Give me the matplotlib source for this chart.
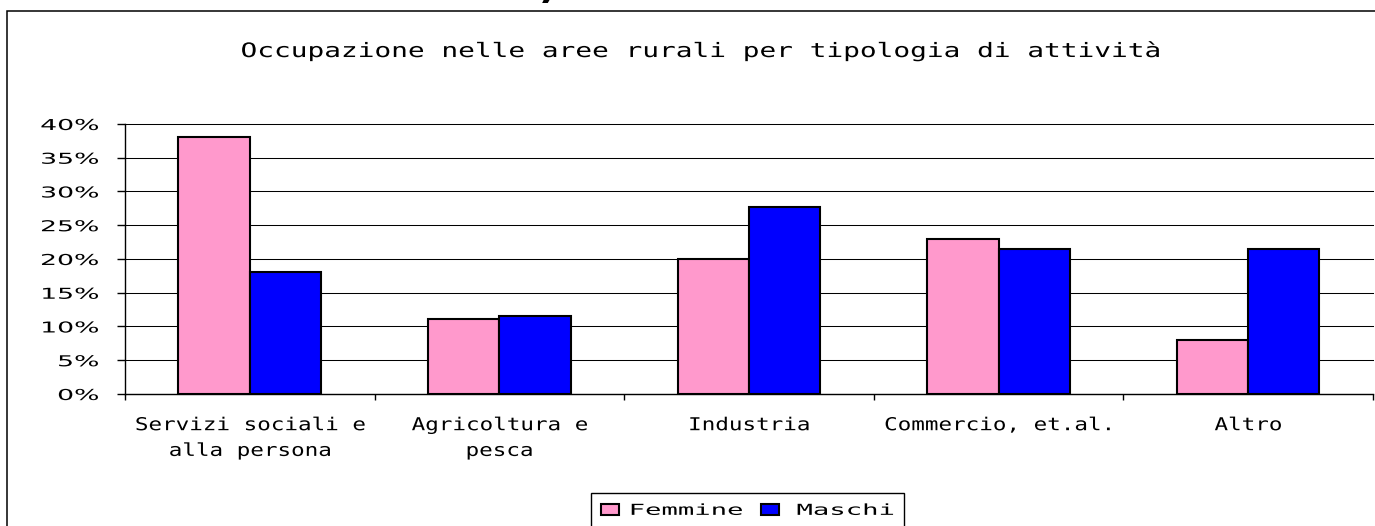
import matplotlib
matplotlib.use('Agg')
import matplotlib.pyplot as plt
import matplotlib.patheffects as pe
import matplotlib.ticker as mtick
from matplotlib.transforms import Affine2D
from matplotlib.patches import Rectangle
import numpy as np

# Dati (percentuali)
categorie = ["Servizi sociali e\nalla persona", "Agricoltura e\npesca", "Industria",
             "Commercio, et.al.", "Altro"]
femmine = [38, 11.1, 20, 22.9, 8]
maschi = [18, 11.5, 27.7, 21.5, 21.5]
serie = ["Femmine", "Maschi"]
titolo = "Occupazione nelle aree rurali per tipologia di attività"


# il testo originale e' molto "largo": lo allargo in orizzontale
class Allarga(pe.AbstractPathEffect):
    def __init__(self, sx, anchor='center'):
        super().__init__()
        self.sx = sx
        self.anchor = anchor

    def draw_path(self, renderer, gc, tpath, affine, rgbFace=None):
        ext = tpath.get_extents()
        cx = {'left': ext.x0, 'center': (ext.x0 + ext.x1) / 2, 'right': ext.x1}[self.anchor]
        tr = Affine2D().translate(-cx, 0).scale(self.sx, 1).translate(cx, 0) + affine
        renderer.draw_path(gc, tpath, tr, rgbFace)


mono = 'DejaVu Sans Mono'

fig = plt.figure(figsize=(13.75, 5.26), dpi=100)
ax = fig.add_axes([0.0909, 0.251, 0.9076, 0.5133])

x = np.arange(len(categorie))
w = 1 / 3.5
b1 = ax.bar(x - w/2, femmine, w, color='#FF99CC', edgecolor='black', linewidth=1.5, label=serie[0])
b2 = ax.bar(x + w/2, maschi, w, color='#0000FF', edgecolor='black', linewidth=1.5, label=serie[1])

ax.set_xlim(-0.5, len(categorie) - 0.5)
ax.set_ylim(0, 40)
ax.set_yticks(np.arange(0, 41, 5))
ax.yaxis.set_major_formatter(mtick.PercentFormatter(decimals=0))
ax.yaxis.grid(True, color='black', linewidth=0.75)
ax.set_axisbelow(True)
for line in ax.get_ygridlines():
    line.set_clip_on(False)

ax.set_xticks(x)
ax.set_xticklabels(categorie, fontfamily=mono, fontsize=12.8, linespacing=1.55)
ax.set_xticks(np.arange(-0.5, len(categorie)), minor=True)
ax.tick_params(axis='x', which='major', length=0, pad=16)
ax.tick_params(axis='x', which='minor', length=4.3, width=1, direction='out')
ax.tick_params(axis='y', length=5.8, width=1, pad=13, labelsize=10.8)
for s in ['top', 'right']:
    ax.spines[s].set_visible(False)
for s in ['left', 'bottom']:
    ax.spines[s].set_linewidth(1)

for t in ax.get_xticklabels():
    t.set_path_effects([Allarga(1.27, 'center')])
for t in ax.get_yticklabels():
    t.set_path_effects([Allarga(1.78, 'right')])

# Titolo
fig.text(0.5105, 0.8916, titolo, ha='center', va='baseline', fontfamily=mono,
         fontsize=14.3, path_effects=[Allarga(1.4, 'center')])

# Legenda
leg = fig.legend(handles=[b1, b2], labels=serie, ncol=2, mode='expand', loc='upper left',
                 bbox_to_anchor=(591/1375, 0, 313/1375, 33/526), bbox_transform=fig.transFigure,
                 borderaxespad=0, borderpad=0.65, handlelength=1.19, handleheight=0.8,
                 handletextpad=3.97, columnspacing=1, fancybox=False, framealpha=1,
                 edgecolor='black', prop={'family': mono, 'size': 10.9})
leg.get_frame().set_linewidth(1)
for t in leg.get_texts():
    t.set_path_effects([Allarga(1.8, 'right')])

# cornice esterna e resto del testo sopra (tagliato come nell'originale)
fig.add_artist(Rectangle((0.00545, -0.1), 1.2, 1.08, transform=fig.transFigure,
                         fill=False, edgecolor='black', linewidth=1.1, clip_on=False))
fig.text(0.3985, 1.003, ')', ha='center', va='baseline', fontsize=28, fontweight='bold')

fig.savefig('out.png', dpi=100)
